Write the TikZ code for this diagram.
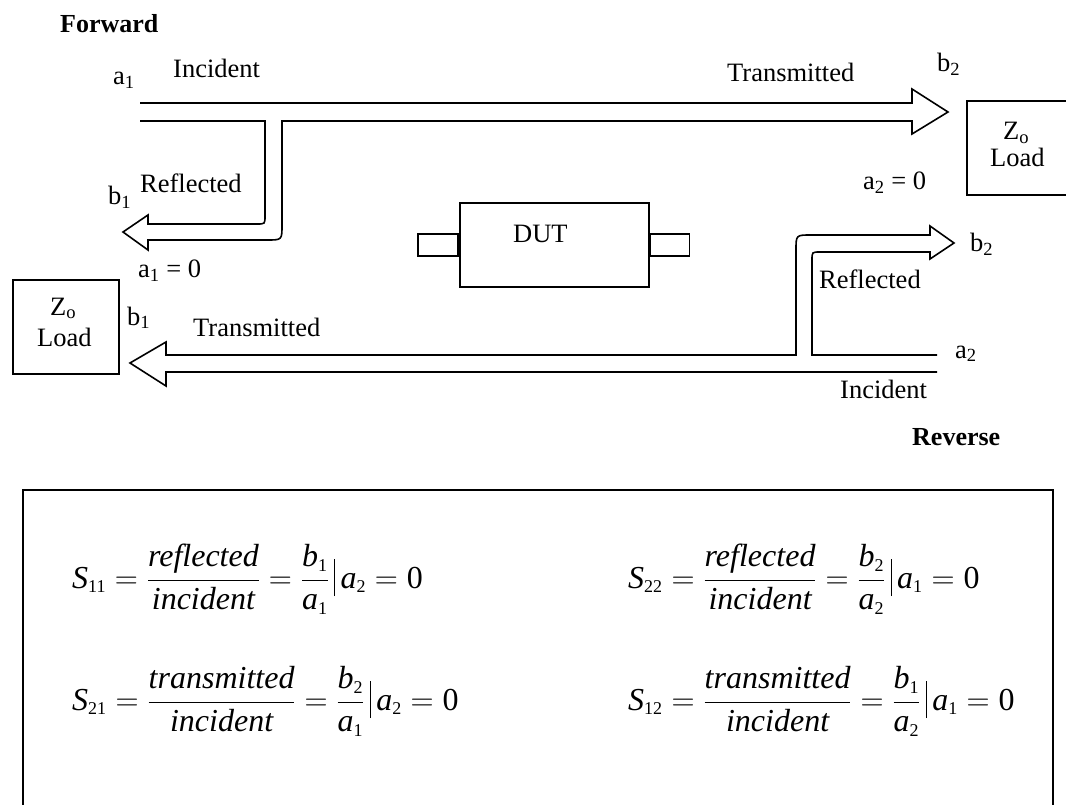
\RequirePackage{fix-cm}
\documentclass[tikz,border=0pt]{standalone}
\usepackage{fontspec}
\setmainfont{Liberation Serif}
\newcommand\subsz[1]{_{\mbox{\fontsize{18}{18}\selectfont #1}}}
\newcommand\iv[1]{\mbox{\itshape #1}}
\newcommand\evalbar{\,\rule[-8pt]{1.2pt}{37pt}\,}
\tikzset{
  lbl/.style={font=\fontsize{26.5}{30}\selectfont, inner sep=0pt, anchor=base west},
  lblb/.style={lbl, font=\fontsize{26}{30}\selectfont\bfseries},
  box/.style={draw, line width=1.6pt, inner sep=0pt},
  fml/.style={font=\fontsize{32}{38}\selectfont, inner sep=0pt, anchor=base west},
  wave/.style={draw, line width=1.6pt, line join=miter}
}
\begin{document}
\begin{tikzpicture}[x=1pt, y=-1pt]
\useasboundingbox (0,0) rectangle (1066,805);

% headings
\node[lblb] (fwd) at (60,33) {Forward};
\node[lblb] (rev) at (912,445) {Reverse};

% forward wave: incident / transmitted arrow with reflected branch
\path[wave] (140,103) -- (912,103) -- (912,89) -- (948,112) -- (912,134)
  -- (912,121) -- (282,121) -- (282,225) .. controls (282,240) .. (267,240)
  -- (148,240) -- (148,250) -- (123,232) -- (148,215) -- (148,224)
  -- (257,224) .. controls (265,224) .. (265,216) -- (265,121) -- (140,121);

% reverse wave: incident / transmitted arrow with reflected branch
\path[wave] (937,372) -- (166,372) -- (166,386) -- (130,363) -- (166,342)
  -- (166,355) -- (796,355) -- (796,250) .. controls (796,235) .. (811,235)
  -- (930,235) -- (930,226) -- (954,243) -- (930,259) -- (930,252)
  -- (820,252) .. controls (812,252) .. (812,260) -- (812,355) -- (937,355);

% forward labels
\node[lbl] (a1f) at (113,85) {a\textsubscript{1}};
\node[lbl] (incf) at (173,78) {Incident};
\node[lbl] (trf) at (727,82) {Transmitted};
\node[lbl] (b2f) at (937,72) {b\textsubscript{2}};
\node[lbl] (reff) at (140,193) {Reflected};
\node[lbl] (b1f) at (108,205) {b\textsubscript{1}};
\node[lbl] (a1z) at (138,278) {a\textsubscript{1} = 0};
\node[lbl] (a2z) at (863,190) {a\textsubscript{2} = 0};

% reverse labels
\node[lbl] (b2r) at (970,252) {b\textsubscript{2}};
\node[lbl] (refr) at (819,288) {Reflected};
\node[lbl] (b1r) at (127,325) {b\textsubscript{1}};
\node[lbl] (trr) at (193,336) {Transmitted};
\node[lbl] (a2r) at (955,358) {a\textsubscript{2}};
\node[lbl] (incr) at (840,398) {Incident};

% matched loads
\node[box, anchor=north west, minimum width=100pt, minimum height=94pt] (loadR) at (966,100) {};
\node[lbl] (zoR) at (1003,140) {Z\textsubscript{o}};
\node[lbl] (ldR) at (990,167) {Load};
\node[box, anchor=north west, minimum width=106pt, minimum height=94pt] (loadL) at (12,279) {};
\node[lbl] (zoL) at (50,315) {Z\textsubscript{o}};
\node[lbl] (ldL) at (37,346) {Load};

% device under test with its two ports
\node[box, anchor=north west, minimum width=189pt, minimum height=84pt] (dut) at (459,202) {};
\node[box, anchor=east, minimum width=40pt, minimum height=22pt] (portL) at (dut.west) {};
\node[box, anchor=west, minimum width=39pt, minimum height=22pt] (portR) at (dut.east) {};
\node[lbl] (dutlbl) at (513,243) {DUT};

% definitions panel
\draw[line width=1.6pt] (23,830) -- (23,490) -- (1053,490) -- (1053,830);
\node[fml] (s11) at (72,588) {$\displaystyle \iv{S}\subsz{11} = \frac{\iv{reflected}}{\iv{incident}} = \frac{\iv{b}\subsz{1}}{\iv{a}\subsz{1}}\evalbar\iv{a}\subsz{2} = \mbox{0}$};
\node[fml] (s22) at (628,588) {$\displaystyle \iv{S}\subsz{22} = \frac{\iv{reflected}}{\iv{incident}} = \frac{\iv{b}\subsz{2}}{\iv{a}\subsz{2}}\evalbar\iv{a}\subsz{1} = \mbox{0}$};
\node[fml] (s21) at (72,710) {$\displaystyle \iv{S}\subsz{21} = \frac{\iv{transmitted}}{\iv{incident}} = \frac{\iv{b}\subsz{2}}{\iv{a}\subsz{1}}\evalbar\iv{a}\subsz{2} = \mbox{0}$};
\node[fml] (s12) at (628,710) {$\displaystyle \iv{S}\subsz{12} = \frac{\iv{transmitted}}{\iv{incident}} = \frac{\iv{b}\subsz{1}}{\iv{a}\subsz{2}}\evalbar\iv{a}\subsz{1} = \mbox{0}$};
\end{tikzpicture}
\end{document}
